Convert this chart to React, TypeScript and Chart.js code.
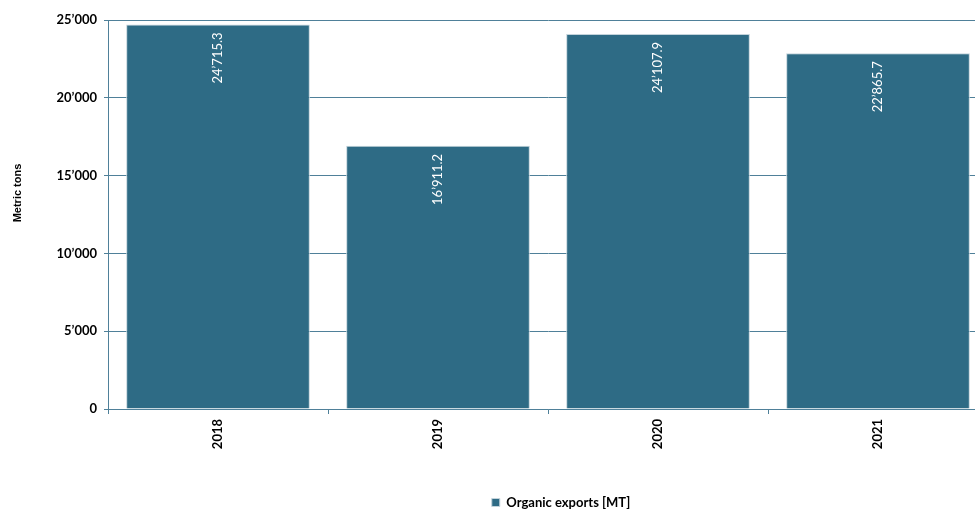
import React, { useEffect, useRef } from "react";
import { Chart, registerables } from "chart.js";

Chart.register(...registerables);

const categories = ["2018", "2019", "2020", "2021"];
const exportsMT = [24715.3, 16911.2, 24107.9, 22865.7];
const seriesLabel = "Organic exports [MT]";
const yTitle = "Metric tons";
const yMax = 25000;
const yStep = 5000;

const BAR = "#2e6b85";
const GRID = "#4f8099";
const FONT = "Lato";

function fmt(v: number, decimals: number): string {
  const s = v.toFixed(decimals);
  const [intPart, dec] = s.split(".");
  const withSep = intPart.replace(/\B(?=(\d{3})+(?!\d))/g, "\u2019");
  return dec !== undefined ? withSep + "." + dec : withSep;
}

const valueLabels = {
  id: "valueLabels",
  afterDatasetsDraw(chart: any) {
    const meta = chart.getDatasetMeta(0);
    const ctx = chart.ctx;
    ctx.save();
    ctx.fillStyle = "#ffffff";
    ctx.font = `13px ${FONT}`;
    meta.data.forEach((bar: any, i: number) => {
      const p = bar.getProps(["x", "y"], true);
      ctx.save();
      ctx.translate(p.x, p.y + 8);
      ctx.rotate(-Math.PI / 2);
      ctx.textAlign = "right";
      ctx.textBaseline = "middle";
      ctx.fillText(fmt(exportsMT[i], 1), 0, 0);
      ctx.restore();
    });
    ctx.restore();
  },
};

const yTitlePlugin = {
  id: "yTitlePlugin",
  afterDraw(chart: any) {
    const ctx = chart.ctx;
    ctx.save();
    ctx.fillStyle = "#000";
    ctx.font = `bold 11px "Liberation Sans", Arial, sans-serif`;
    ctx.translate(18, 193);
    ctx.rotate(-Math.PI / 2);
    ctx.textAlign = "center";
    ctx.textBaseline = "middle";
    ctx.fillText(yTitle, 0, 0);
    ctx.restore();
  },
};

export default function App() {
  const ref = useRef<HTMLCanvasElement | null>(null);

  useEffect(() => {
    if (!ref.current) return;
    const chart = new Chart(ref.current, {
      type: "bar",
      data: {
        labels: categories,
        datasets: [
          {
            label: seriesLabel,
            data: exportsMT,
            backgroundColor: BAR,
            borderColor: "#c3d3db",
            borderWidth: 1,
            barPercentage: 0.835,
            categoryPercentage: 1,
          },
        ],
      },
      options: {
        responsive: false,
        animation: false,
        layout: { padding: { top: 20, left: 0, right: 0, bottom: 1 } },
        plugins: {
          tooltip: { enabled: false },
          legend: {
            position: "bottom",
            labels: {
              boxWidth: 8,
              boxHeight: 8,
              color: "#000",
              font: { family: FONT, size: 13, weight: "bold" },
              padding: 10,
            },
          },
        },
        scales: {
          x: {
            grid: {
              drawOnChartArea: false,
              drawTicks: true,
              tickLength: 5,
              color: GRID,
              offset: true,
            },
            border: { display: true, color: GRID, width: 1 },
            ticks: {
              color: "#000",
              minRotation: 90,
              maxRotation: 90,
              padding: 5,
              font: { family: FONT, size: 13, weight: "bold" },
            },
            afterFit(s: any) {
              s.height = 77;
            },
          },
          y: {
            min: 0,
            max: yMax,
            ticks: {
              stepSize: yStep,
              color: "#000",
              padding: 7,
              font: { family: FONT, size: 13, weight: "bold" },
              callback: (v: any) => fmt(Number(v), 0),
            },
            grid: { color: GRID, tickLength: 4, drawTicks: true },
            border: { display: true, color: GRID, width: 1 },
            afterFit(s: any) {
              s.width = 108;
            },
          },
          yRightSpacer: {
            type: "linear",
            position: "right",
            display: true,
            grid: { display: false, drawTicks: false },
            border: { display: false },
            ticks: { display: false },
            afterFit(s: any) {
              s.width = 134;
            },
          },
        },
      } as any,
      plugins: [valueLabels, yTitlePlugin],
    });
    return () => chart.destroy();
  }, []);

  return (
    <div
      style={{
        position: "fixed",
        left: 0,
        top: 0,
        width: 975,
        height: 511,
        overflow: "hidden",
        background: "#fff",
      }}
    >
      <canvas ref={ref} width={1122} height={520} style={{ display: "block" }} />
    </div>
  );
}
